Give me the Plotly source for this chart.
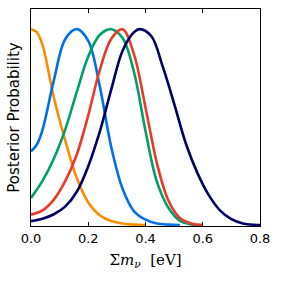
import plotly.graph_objects as go

# Posterior curves (normalized to peak = 1), sum of neutrino masses in eV
orange_x = [0.0, 0.02, 0.04, 0.08, 0.12, 0.16, 0.2, 0.24, 0.28, 0.32, 0.36, 0.4]
orange_y = [1.0, 0.985, 0.92, 0.65, 0.43, 0.24, 0.115, 0.05, 0.02, 0.008, 0.002, 0.0]

blue_x = [0.0, 0.02, 0.04, 0.08, 0.12, 0.16, 0.2, 0.24, 0.28, 0.32, 0.36, 0.4, 0.44, 0.48, 0.52]
blue_y = [0.376, 0.41, 0.485, 0.74, 0.95, 1.0, 0.94, 0.71, 0.40, 0.185, 0.07, 0.028, 0.008, 0.002, 0.0]

green_x = [0.0, 0.04, 0.08, 0.12, 0.16, 0.2, 0.24, 0.28, 0.32, 0.36, 0.4, 0.44, 0.48, 0.52, 0.56, 0.6]
green_y = [0.138, 0.225, 0.34, 0.49, 0.68, 0.86, 0.97, 1.0, 0.955, 0.78, 0.48, 0.22, 0.088, 0.022, 0.003, 0.0]

red_x = [0.0, 0.04, 0.08, 0.12, 0.16, 0.2, 0.24, 0.28, 0.32, 0.36, 0.4, 0.44, 0.48, 0.52, 0.56, 0.6]
red_y = [0.053, 0.075, 0.13, 0.225, 0.36, 0.56, 0.79, 0.95, 1.0, 0.87, 0.6, 0.315, 0.125, 0.036, 0.008, 0.0]

navy_x = [0.0, 0.04, 0.08, 0.12, 0.16, 0.2, 0.24, 0.28, 0.32, 0.36, 0.38, 0.42, 0.46, 0.5, 0.54, 0.58, 0.62, 0.66, 0.7, 0.74, 0.78, 0.8]
navy_y = [0.02, 0.032, 0.055, 0.095, 0.17, 0.3, 0.475, 0.69, 0.89, 0.985, 1.0, 0.965, 0.81, 0.62, 0.42, 0.27, 0.155, 0.075, 0.03, 0.008, 0.001, 0.0]

x_ticks = [0.0, 0.2, 0.4, 0.6, 0.8]
x_tick_labels = ["0.0", "0.2", "0.4", "0.6", "0.8"]

series = [
    (orange_x, orange_y, "#ff8c00"),
    (blue_x, blue_y, "#0070e8"),
    (green_x, green_y, "#009f6a"),
    (red_x, red_y, "#e53a2c"),
    (navy_x, navy_y, "#000066"),
]

fig = go.Figure()
for xs, ys, c in series:
    fig.add_trace(go.Scatter(x=xs, y=ys, mode="lines",
                             line=dict(color=c, width=2.6, shape="spline", smoothing=1.0),
                             showlegend=False, hoverinfo="skip"))

fig.update_layout(
    width=281, height=283,
    margin=dict(l=31, r=21, t=9, b=57),
    paper_bgcolor="white", plot_bgcolor="white",
    font=dict(family="DejaVu Sans", color="black", size=13),
)
fig.update_xaxes(
    range=[0, 0.8], tickvals=x_ticks, ticktext=x_tick_labels,
    ticks="inside", ticklen=4, tickwidth=1, tickcolor="black",
    showline=True, linecolor="black", linewidth=1.2, mirror="ticks",
    showgrid=False, zeroline=False, automargin=False,
    tickfont=dict(size=13, family="DejaVu Sans"),
    title=dict(text="Σ<i>m</i><sub><i>ν</i></sub>  [eV]",
               font=dict(family="DejaVu Serif", size=15), standoff=9),
)
fig.update_yaxes(
    range=[-0.005, 1.103], showticklabels=False, ticks="",
    showline=True, linecolor="black", linewidth=1.2, mirror=True,
    showgrid=False, zeroline=False, automargin=False,
    title=dict(text="Posterior Probability", font=dict(family="DejaVu Sans", size=15), standoff=6),
)
fig.write_html("out.html", config={"displayModeBar": False},
               post_script="document.body.style.margin='0';document.body.style.overflow='hidden';")
